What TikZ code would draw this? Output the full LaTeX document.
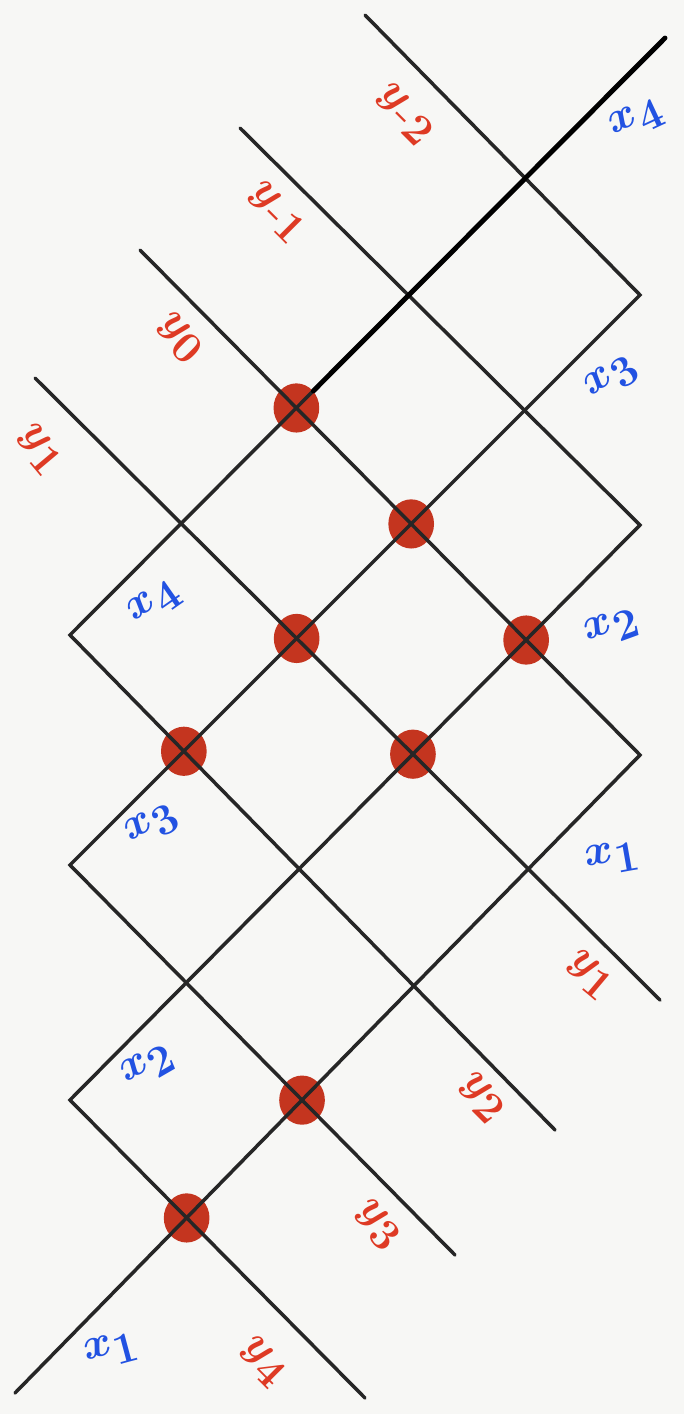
\documentclass[tikz,border=0pt]{standalone}
\usepackage{amsmath}
\usetikzlibrary{calc,shapes.geometric}
\definecolor{lred}{HTML}{DE3A24}
\definecolor{lblue}{HTML}{2252E2}
\definecolor{dotred}{HTML}{C4351F}
\definecolor{paper}{HTML}{F7F7F5}
\begin{document}
\begin{tikzpicture}[x=0.02cm,y=-0.02cm,
  wire/.style={line width=2pt,black!85,line cap=round,line join=miter},
  rdot/.style={ellipse,fill=dotred,inner sep=0pt,minimum width=26pt,minimum height=28pt},
  ylab/.style={text=lred,font=\fontsize{42}{42}\selectfont\boldmath,inner sep=0pt},
  xlab/.style={text=lblue,font=\fontsize{40}{40}\selectfont\boldmath,inner sep=0pt}]
\fill[paper] (0,0) rectangle (684,1414);
\useasboundingbox (0,0) rectangle (684,1414);
% path end points and bounce corners
\coordinate (s1) at (365,15);
\coordinate (s2) at (240,128);
\coordinate (s3) at (140,250);
\coordinate (s4) at (35,378);
\coordinate (s5) at (665,38);
\coordinate (k51) at (640,295);
\coordinate (k53) at (640,525);
\coordinate (k55) at (640,755);
\coordinate (k04) at (70,635);
\coordinate (k06) at (70,865);
\coordinate (k08) at (70,1100);
\coordinate (e1) at (455,1255);
\coordinate (e2) at (365,1398);
\coordinate (e3) at (15,1393);
\coordinate (e4) at (660,1000);
\coordinate (e5) at (555,1130);
% red dots
\node[rdot] (d1) at (intersection of s5--k04 and s3--k55) {};
\node[rdot] (d2) at (intersection of k51--k06 and s3--k55) {};
\node[rdot] (d3) at (intersection of k51--k06 and s4--e4) {};
\node[rdot] (d4) at (intersection of k53--k08 and s3--k55) {};
\node[rdot] (d5) at (intersection of k51--k06 and k04--e5) {};
\node[rdot] (d6) at (intersection of k53--k08 and s4--e4) {};
\node[rdot] (d7) at (intersection of k06--e1 and k55--e3) {};
\node[rdot] (d8) at (intersection of k08--e2 and k55--e3) {};
% wires
\draw[wire] (s1) -- (k51) -- (k06) -- (e1);
\draw[wire] (s2) -- (k53) -- (k08) -- (e2);
\draw[wire] (s3) -- (k55) -- (e3);
\draw[wire] (s4) -- (e4);
\draw[wire] (s5) -- (k04) -- (e5);
\draw[line width=2.8pt,black,line cap=round] (s5) -- (d1);
% labels
\node[ylab,rotate=-45] (ym2) at (405,115) {$y_{\text{-}2}$};
\node[ylab,rotate=-45] (ym1) at (277,213) {$y_{\text{-}1}$};
\node[ylab,rotate=-45] (y0) at (180,338) {$y_{0}$};
\node[ylab,rotate=-50] (y1a) at (40,450) {$y_{1}$};
\node[ylab,rotate=-40] (y1b) at (590,975) {$y_{1}$};
\node[ylab,rotate=-45] (y2) at (482,1098) {$y_{2}$};
\node[ylab,rotate=-45] (y3) at (378,1225) {$y_{3}$};
\node[ylab,rotate=-45] (y4) at (263,1362) {$y_{4}$};
\node[xlab,rotate=25] (x4a) at (637,120) {$x_4$};
\node[xlab,rotate=35] (x3a) at (612,378) {$x_3$};
\node[xlab,rotate=20] (x2a) at (612,628) {$x_2$};
\node[xlab,rotate=10] (x1a) at (613,858) {$x_1$};
\node[xlab,rotate=35] (x4b) at (155,603) {$x_4$};
\node[xlab,rotate=30] (x3b) at (152,825) {$x_3$};
\node[xlab,rotate=30] (x2b) at (148,1066) {$x_2$};
\node[xlab,rotate=15] (x1b) at (112,1350) {$x_1$};
\end{tikzpicture}
\end{document}
